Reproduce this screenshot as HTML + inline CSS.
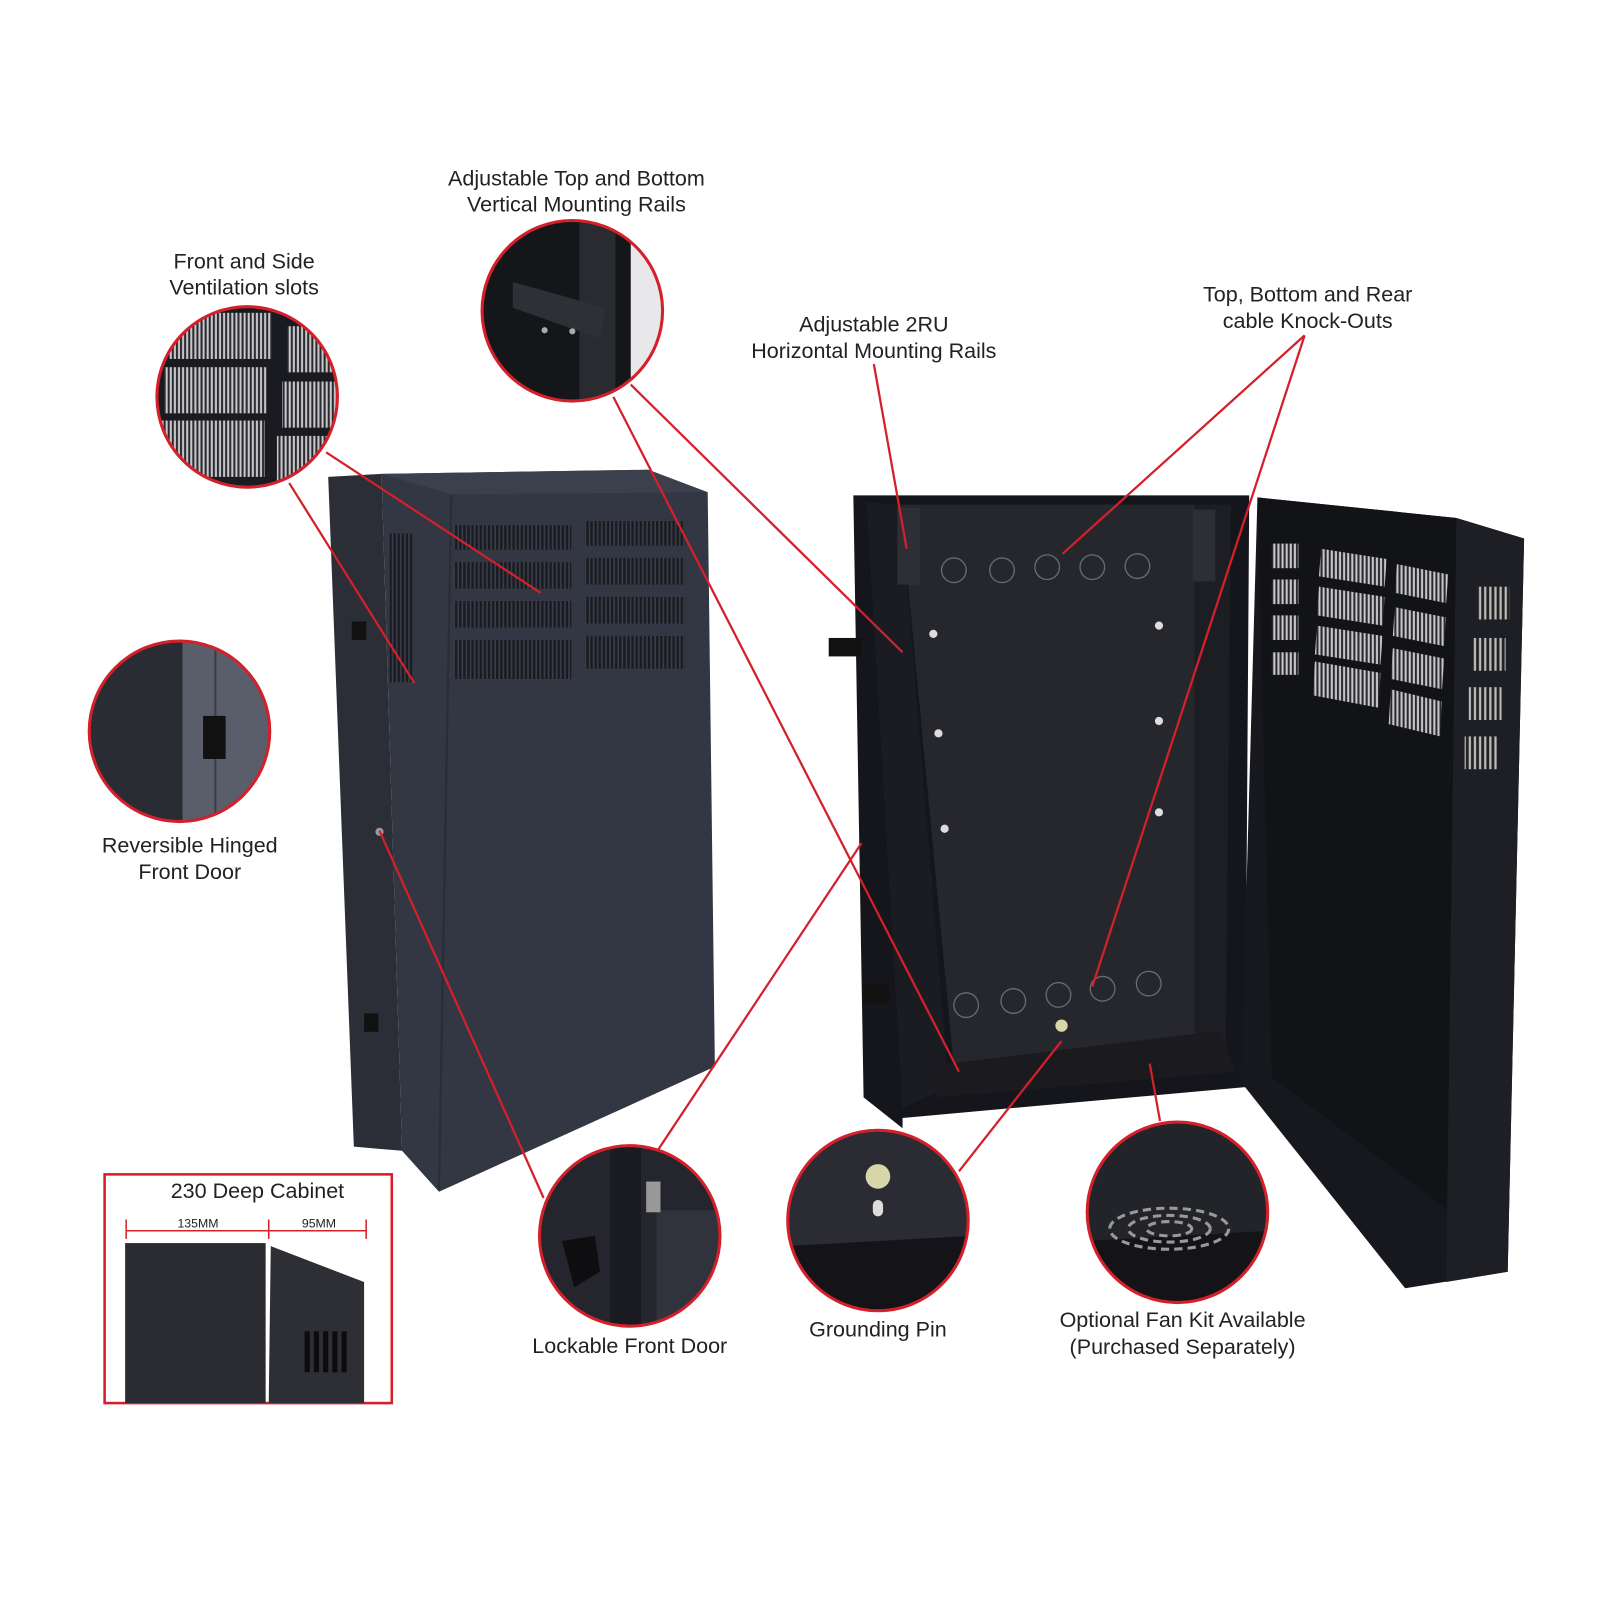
<!DOCTYPE html>
<html><head><meta charset="utf-8"><style>
html,body{margin:0;padding:0;background:#fff}
svg{display:block}
text{font-family:"Liberation Sans",sans-serif;fill:#222;font-size:21px;text-anchor:middle}
</style></head><body>
<svg width="1600" height="1600" viewBox="0 0 1560 1560" xmlns="http://www.w3.org/2000/svg">
<defs>
<pattern id="vs" width="4" height="10" patternUnits="userSpaceOnUse"><rect width="4" height="10" fill="#1a1b22"/><rect x="2" width="1.6" height="10" fill="#3a3d48"/></pattern>
<pattern id="vl" width="4" height="10" patternUnits="userSpaceOnUse"><rect width="4" height="10" fill="#2a2a2e"/><rect x="1.5" width="2" height="10" fill="#c8c8cc"/></pattern>
<pattern id="vd" width="5" height="10" patternUnits="userSpaceOnUse"><rect width="5" height="10" fill="#222"/><rect x="2" width="2.2" height="10" fill="#bbb"/></pattern>
<clipPath id="c1"><circle cx="241" cy="387" r="88"/></clipPath>
<clipPath id="c2"><circle cx="558" cy="303" r="88"/></clipPath>
<clipPath id="c3"><circle cx="175" cy="713" r="88"/></clipPath>
<clipPath id="c4"><circle cx="614" cy="1205" r="88"/></clipPath>
<clipPath id="c5"><circle cx="856" cy="1190" r="88"/></clipPath>
<clipPath id="c6"><circle cx="1148" cy="1182" r="88"/></clipPath>
</defs>

<!-- Left closed cabinet -->
<polygon points="320,465 372,462 392,1122 345,1118" fill="#2b2d37"/>
<polygon points="372,462 632,458 690,480 697,1040 428,1162 392,1122" fill="#333643"/>
<polygon points="372,462 632,458 690,480 440,482" fill="#3c3f4c"/>
<line x1="440" y1="482" x2="428" y2="1160" stroke="#2a2c36" stroke-width="2"/>
<g fill="url(#vs)">
<rect x="443" y="512" width="114" height="24"/><rect x="570" y="508" width="98" height="24"/>
<rect x="443" y="548" width="114" height="26"/><rect x="570" y="544" width="98" height="26"/>
<rect x="443" y="586" width="114" height="26"/><rect x="570" y="582" width="98" height="26"/>
<rect x="443" y="624" width="114" height="38"/><rect x="570" y="620" width="98" height="32"/>
<rect x="380" y="520" width="22" height="145"/>
</g>
<rect x="343" y="606" width="14" height="18" fill="#111"/>
<rect x="355" y="988" width="14" height="18" fill="#111"/>
<circle cx="370" cy="811" r="4" fill="#999"/>

<!-- Open cabinet -->
<polygon points="832,483 1218,483 1214,1060 880,1090 880,1100 842,1070" fill="#15161b"/>
<polygon points="878,492 1165,492 1165,1010 930,1040" fill="#26262d"/>
<polygon points="845,490 878,492 925,1060 880,1080" fill="#1b1c22"/>
<polygon points="1165,492 1200,492 1195,1040 1165,1010" fill="#1d1e24"/>
<rect x="875" y="495" width="22" height="75" fill="#2e2f36"/>
<rect x="1163" y="497" width="22" height="70" fill="#2e2f36"/>
<polygon points="900,1040 1190,1005 1205,1045 915,1070" fill="#1a1a1f"/>
<rect x="808" y="622" width="32" height="18" fill="#111"/>
<rect x="842" y="960" width="25" height="18" fill="#111"/>
<g fill="none" stroke="#6a6a72" stroke-width="1.3">
<circle cx="930" cy="556" r="12"/><circle cx="977" cy="556" r="12"/><circle cx="1021" cy="553" r="12"/><circle cx="1065" cy="553" r="12"/><circle cx="1109" cy="552" r="12"/>
<circle cx="942" cy="980" r="12"/><circle cx="988" cy="976" r="12"/><circle cx="1032" cy="970" r="12"/><circle cx="1075" cy="964" r="12"/><circle cx="1120" cy="959" r="12"/>
</g>
<g fill="#ddd"><circle cx="910" cy="618" r="4"/><circle cx="1130" cy="610" r="4"/><circle cx="915" cy="715" r="4"/><circle cx="1130" cy="703" r="4"/><circle cx="921" cy="808" r="4"/><circle cx="1130" cy="792" r="4"/></g>
<circle cx="1035" cy="1000" r="6" fill="#d8d6a8"/>
<!-- door -->
<polygon points="1226,485 1420,505 1486,525 1470,1240 1370,1256 1210,1055" fill="#17181d"/>
<polygon points="1226,485 1420,505 1412,1180 1240,1050" fill="#121317"/>
<polygon points="1420,505 1486,525 1470,1240 1410,1250" fill="#1e1f25"/>
<g fill="url(#vl)">
<rect x="1240" y="530" width="26" height="24"/><rect x="1240" y="565" width="26" height="24"/><rect x="1240" y="600" width="26" height="24"/><rect x="1240" y="636" width="26" height="22"/>
<polygon points="1288,535 1352,545 1350,572 1286,562"/><polygon points="1362,550 1412,560 1410,588 1360,578"/>
<polygon points="1286,572 1350,582 1348,610 1284,600"/><polygon points="1360,592 1410,602 1408,630 1358,620"/>
<polygon points="1284,610 1348,620 1346,648 1282,638"/><polygon points="1358,632 1408,642 1406,672 1356,662"/>
<polygon points="1282,645 1346,656 1344,690 1280,678"/><polygon points="1356,672 1406,684 1404,718 1354,706"/>
</g>
<g fill="url(#vd)">
<rect x="1440" y="572" width="32" height="32"/><rect x="1436" y="622" width="32" height="32"/><rect x="1432" y="670" width="32" height="32"/><rect x="1428" y="718" width="32" height="32"/>
</g>

<!-- Magnifier circles -->
<g clip-path="url(#c1)"><rect x="150" y="295" width="185" height="185" fill="#1a1b20"/>
<g fill="url(#vl)"><rect x="165" y="305" width="100" height="45"/><rect x="280" y="318" width="60" height="45"/><rect x="160" y="358" width="100" height="45"/><rect x="275" y="372" width="60" height="45"/><rect x="158" y="410" width="100" height="55"/><rect x="270" y="425" width="60" height="45"/></g></g>
<g clip-path="url(#c2)"><rect x="468" y="213" width="180" height="180" fill="#15161a"/><rect x="615" y="213" width="40" height="180" fill="#e8e8ea"/><rect x="565" y="213" width="35" height="180" fill="#2a2b30"/><polygon points="500,275 590,300 585,330 500,300" fill="#2f3036"/><circle cx="531" cy="322" r="3" fill="#aaa"/><circle cx="558" cy="323" r="3" fill="#aaa"/></g>
<g clip-path="url(#c3)"><rect x="85" y="623" width="180" height="180" fill="#2a2c33"/><rect x="178" y="623" width="90" height="180" fill="#5a5e6b"/><line x1="210" y1="623" x2="210" y2="803" stroke="#3b3e48" stroke-width="2"/><rect x="198" y="698" width="22" height="42" fill="#111"/></g>
<g clip-path="url(#c4)"><rect x="524" y="1115" width="180" height="180" fill="#24252d"/><rect x="595" y="1115" width="30" height="180" fill="#1a1b20"/><rect x="640" y="1180" width="70" height="120" fill="#30323c"/><polygon points="548,1210 580,1205 585,1240 560,1255" fill="#0e0e10"/><rect x="630" y="1152" width="14" height="30" fill="#999"/></g>
<g clip-path="url(#c5)"><rect x="766" y="1100" width="180" height="180" fill="#2b2c33"/><polygon points="766,1215 946,1205 946,1280 766,1280" fill="#141418"/><circle cx="856" cy="1147" r="12" fill="#d8d6a8"/><rect x="851" y="1170" width="10" height="16" rx="5" fill="#ddd"/></g>
<g clip-path="url(#c6)"><rect x="1058" y="1092" width="180" height="180" fill="#232429"/><polygon points="1058,1210 1238,1200 1238,1272 1058,1272" fill="#141418"/><g fill="none" stroke="#999" stroke-width="3" stroke-dasharray="8 5"><ellipse cx="1140" cy="1198" rx="58" ry="20"/><ellipse cx="1140" cy="1198" rx="40" ry="13"/><ellipse cx="1140" cy="1198" rx="22" ry="7"/></g></g>
<g fill="none" stroke="#d3202a" stroke-width="3">
<circle cx="241" cy="387" r="88"/><circle cx="558" cy="303" r="88"/><circle cx="175" cy="713" r="88"/><circle cx="614" cy="1205" r="88"/><circle cx="856" cy="1190" r="88"/><circle cx="1148" cy="1182" r="88"/>
</g>

<!-- Leader lines -->
<g stroke="#d3202a" stroke-width="2.2" fill="none">
<line x1="282" y1="471" x2="404" y2="666"/>
<line x1="318" y1="441" x2="527" y2="578"/>
<line x1="598" y1="387" x2="935" y2="1045"/>
<line x1="615" y1="375" x2="880" y2="636"/>
<line x1="852" y1="355" x2="884" y2="535"/>
<line x1="1272" y1="327" x2="1036" y2="540"/>
<line x1="1272" y1="327" x2="1065" y2="962"/>
<line x1="370" y1="810" x2="530" y2="1168"/>
<line x1="641" y1="1122" x2="840" y2="822"/>
<line x1="935" y1="1142" x2="1035" y2="1015"/>
<line x1="1131" y1="1093" x2="1121" y2="1037"/>
</g>

<!-- Depth box -->
<rect x="102" y="1145" width="280" height="223" fill="none" stroke="#d3202a" stroke-width="2.5"/>
<g stroke="#d3202a" stroke-width="1.5"><line x1="123" y1="1200" x2="357" y2="1200"/><line x1="123" y1="1189" x2="123" y2="1208"/><line x1="262" y1="1189" x2="262" y2="1208"/><line x1="357" y1="1189" x2="357" y2="1208"/></g>
<rect x="122" y="1212" width="137" height="156" fill="#2b2c31"/>
<polygon points="264,1215 355,1250 355,1368 262,1368" fill="#2e2f35"/>
<g fill="#0c0c0e"><rect x="297" y="1298" width="5" height="40"/><rect x="306" y="1298" width="5" height="40"/><rect x="315" y="1298" width="5" height="40"/><rect x="324" y="1298" width="5" height="40"/><rect x="333" y="1298" width="5" height="40"/></g>
<text x="251" y="1168">230 Deep Cabinet</text>
<text x="193" y="1197" style="font-size:12px">135MM</text>
<text x="311" y="1197" style="font-size:12px">95MM</text>

<!-- Labels -->
<text x="562" y="181">Adjustable Top and Bottom</text>
<text x="562" y="206">Vertical Mounting Rails</text>
<text x="238" y="262">Front and Side</text>
<text x="238" y="287">Ventilation slots</text>
<text x="852" y="323">Adjustable 2RU</text>
<text x="852" y="349">Horizontal Mounting Rails</text>
<text x="1275" y="294">Top, Bottom and Rear</text>
<text x="1275" y="320">cable Knock-Outs</text>
<text x="185" y="831">Reversible Hinged</text>
<text x="185" y="857">Front Door</text>
<text x="614" y="1319">Lockable Front Door</text>
<text x="856" y="1303">Grounding Pin</text>
<text x="1153" y="1294">Optional Fan Kit Available</text>
<text x="1153" y="1320">(Purchased Separately)</text>
</svg>
</body></html>
